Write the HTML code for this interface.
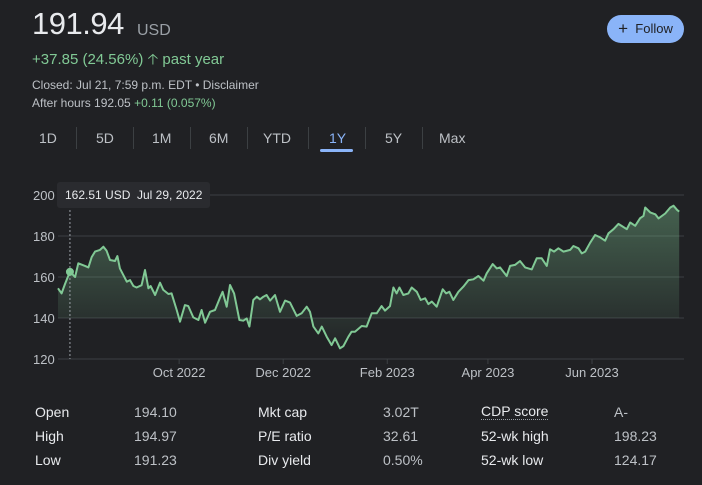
<!DOCTYPE html>
<html><head><meta charset="utf-8">
<style>
body{margin:0;width:702px;height:485px;background:#202124;font-family:"Liberation Sans",Arial,sans-serif;color:#e8eaed;position:relative;overflow:hidden}
.a{position:absolute;white-space:nowrap}
.tab{position:absolute;top:130px;font-size:14px;color:#bdc1c6}
.sep{position:absolute;top:127px;width:1px;height:22px;background:#3c4043}
.tl{position:absolute;font-size:14px;color:#e8eaed}
.tv{position:absolute;font-size:14px;color:#bdc1c6}
</style></head><body>
<div class="a" style="left:32px;top:6px;font-size:31px;color:#e8eaed;letter-spacing:-0.5px">191.94</div>
<div class="a" style="left:137px;top:22px;font-size:16px;color:#9aa0a6">USD</div>
<div class="a" style="left:32px;top:49px;font-size:15px;color:#81c995">+37.85 (24.56%) &#129121; past year</div>
<div class="a" style="left:32px;top:78px;font-size:12px;color:#bdc1c6">Closed: Jul 21, 7:59 p.m. EDT • <span>Disclaimer</span></div>
<div class="a" style="left:32px;top:96px;font-size:12px;color:#bdc1c6">After hours 192.05 <span style="color:#81c995">+0.11 (0.057%)</span></div>
<div class="a" style="left:607px;top:15px;width:77px;height:28px;border-radius:14px;background:#8ab4f8;color:#202124;font-size:13px;line-height:28px;text-align:center"><span style="font-size:17px;vertical-align:-1px">+</span>&nbsp; Follow</div>
<div class="tab" style="left:39px">1D</div>
<div class="sep" style="left:76px"></div>
<div class="tab" style="left:96px">5D</div>
<div class="sep" style="left:133px"></div>
<div class="tab" style="left:152px">1M</div>
<div class="sep" style="left:190px"></div>
<div class="tab" style="left:209px">6M</div>
<div class="sep" style="left:247px"></div>
<div class="tab" style="left:263px">YTD</div>
<div class="sep" style="left:308px"></div>
<div class="tab" style="left:329px;color:#8ab4f8">1Y</div>
<div class="a" style="left:320px;top:149px;width:33px;height:3px;border-radius:2px;background:#8ab4f8"></div>
<div class="sep" style="left:365px"></div>
<div class="tab" style="left:385px">5Y</div>
<div class="sep" style="left:422px"></div>
<div class="tab" style="left:439px">Max</div>

<svg id="chart" class="a" style="left:0;top:170px" width="702" height="220"></svg>

<div class="tl" style="left:35px;top:404px">Open</div>
<div class="tv" style="left:134px;top:404px">194.10</div>
<div class="tl" style="left:35px;top:428px">High</div>
<div class="tv" style="left:134px;top:428px">194.97</div>
<div class="tl" style="left:35px;top:452px">Low</div>
<div class="tv" style="left:134px;top:452px">191.23</div>
<div class="tl" style="left:258px;top:404px">Mkt cap</div>
<div class="tv" style="left:383px;top:404px">3.02T</div>
<div class="tl" style="left:258px;top:428px">P/E ratio</div>
<div class="tv" style="left:383px;top:428px">32.61</div>
<div class="tl" style="left:258px;top:452px">Div yield</div>
<div class="tv" style="left:383px;top:452px">0.50%</div>
<div class="tl" style="left:481px;top:404px;border-bottom:1px dotted #9aa0a6;line-height:15px">CDP score</div>
<div class="tv" style="left:614px;top:404px">A-</div>
<div class="tl" style="left:481px;top:428px">52-wk high</div>
<div class="tv" style="left:614px;top:428px">198.23</div>
<div class="tl" style="left:481px;top:452px">52-wk low</div>
<div class="tv" style="left:614px;top:452px">124.17</div>

<script>
const days=[0,2.1,4.1,7,10,11.9,15.8,17.8,19.7,21.7,24.6,26.6,28.5,30.5,33.4,34.8,36.3,40.3,42.2,44.2,46.1,49,51,53,54.3,56.9,59.8,61.7,64.7,66.6,69.6,71.5,74.4,76.4,79.3,82.3,84.2,86.2,89.1,92,95,96.5,98.9,100.8,103.2,106.3,108.6,110.6,112.2,114.5,116.5,118.4,120.4,122.3,124.3,127.2,130.1,133.1,136,139.9,142.8,145.8,147.7,149.7,152.6,154.6,157.5,160.4,162.4,165.3,167.3,170.2,172.1,174.1,178,180.9,183.9,186.8,189.7,191.7,194.6,196.6,198.5,200.1,202.4,205.4,207.3,210.3,212.6,215.2,217.1,219.1,222,225.5,227.5,229.4,231.7,234.7,237.6,240.6,243.5,246.4,249.4,251.3,254.8,257.2,259.1,263,265,267.9,270.8,273.8,277.7,280.6,283.5,286.5,288.4,290.8,293.3,296.3,300.2,302.1,305.1,307,309,311.9,314.8,317.8,320.7,322.7,325.6,328.5,330.5,333.4,335.4,338.3,341.2,343.2,344.2,347.1,350.1,352,355.9,358.9,360.8,362.8,364.1];
const prices=[154.5,152,156.6,162.6,160,166.7,165.4,164.7,169.6,172.4,173.2,174.8,172.8,168.3,167.8,170.2,164.2,157.7,158.5,155.6,154.9,156,163.4,154.5,155.6,151.2,157.2,153.7,151.7,152,143.9,138.2,146.3,145.8,140.3,139,143.9,137.7,143,143.9,150,152.8,145.5,156.1,152,139,138.7,139.8,135.8,148.8,150.4,149.1,150.4,151.2,148.5,151.2,143,148.5,147.5,141,142.3,145.5,143,135.8,132.5,135.8,130.9,126.8,130.1,125.2,126.3,130.9,133.3,133.3,136.1,135.8,142.3,142.3,145.8,143.6,145.8,154.9,152,154.9,151.2,152,154.9,152.8,148.8,149.6,146.8,148,145.5,154,152,152.8,148.8,152.8,155.3,158.5,158.9,160.5,158.2,161.8,166.3,164.2,164.7,160.5,165.4,165.9,167.8,164.7,163.7,169.1,169.1,165.4,173.5,172.4,174,172.4,173.2,175.1,174,171.5,172.4,176.7,180.5,179.3,177.7,181.3,183.3,185.9,184.9,183.3,186.6,185,188.7,189.8,193.9,191.5,190.6,188.6,191,193.9,194.8,192.8,191.9];
const yTicks=[120,140,160,180,200];
const xTickDays=[71,132,193,252,313];
const xTickLabels=["Oct 2022","Dec 2022","Feb 2023","Apr 2023","Jun 2023"];
const hoverDay=7, hoverPrice=162.51;

const svg=document.getElementById('chart');
const NS='http://www.w3.org/2000/svg';
const x=d=>58+d*(621/364);
const y=p=>25+(200-p)*(164/80);
function mk(t,a,parent){const e=document.createElementNS(NS,t);for(const k in a)e.setAttribute(k,a[k]);(parent||svg).appendChild(e);return e;}
const defs=mk('defs',{});
defs.innerHTML='<linearGradient id="g" x1="0" y1="0" x2="0" y2="1"><stop offset="0" stop-color="#81c995" stop-opacity="0.38"/><stop offset="1" stop-color="#81c995" stop-opacity="0.02"/></linearGradient>';
yTicks.forEach(v=>{
  const l=mk('line',{x1:58,x2:684,y1:y(v),y2:y(v),stroke:'#3c4043','stroke-width':1});
  
  
  const t=mk('text',{x:33,y:y(v)+5,fill:'#bdc1c6','font-size':13,'font-family':'Liberation Sans, sans-serif'});
  t.textContent=v;
  
  
});
xTickDays.forEach((d,i)=>{
  const l=mk('line',{x1:x(d),x2:x(d),y1:y(120),y2:y(120)+5,stroke:'#3c4043'});
  
  
  const t=mk('text',{x:x(d),y:207,fill:'#bdc1c6','font-size':13,'text-anchor':'middle','font-family':'Liberation Sans, sans-serif'});
  t.textContent=xTickLabels[i];
  
  
});
let pts=days.map((d,i)=>x(d).toFixed(1)+','+y(prices[i]).toFixed(1));
const base=y(140);
const area=mk('path',{d:'M'+x(days[0])+','+base+' L'+pts.join(' L')+' L'+x(days[days.length-1])+','+base+' Z',fill:'url(#g)'});


const line=mk('polyline',{points:pts.join(' '),fill:'none',stroke:'#81c995','stroke-width':2,'stroke-linejoin':'round'});


const hl=mk('line',{x1:x(hoverDay),x2:x(hoverDay),y1:36,y2:y(120),stroke:'#9aa0a6','stroke-dasharray':'2,2','stroke-width':1});


const dot=mk('circle',{cx:x(hoverDay),cy:y(hoverPrice),r:4,fill:'#81c995'});


const tb=mk('rect',{x:57,y:12,width:153,height:26,rx:3,fill:'#2a2b2f'});


const tt=mk('text',{x:65,y:29,fill:'#e8eaed','font-size':12,'font-family':'Liberation Sans, sans-serif'});


const s1=mk('tspan',{},tt);
s1.textContent=hoverPrice+' USD';
const s2=mk('tspan',{x:137},tt);
s2.textContent='Jul 29, 2022';
</script>
</body></html>
